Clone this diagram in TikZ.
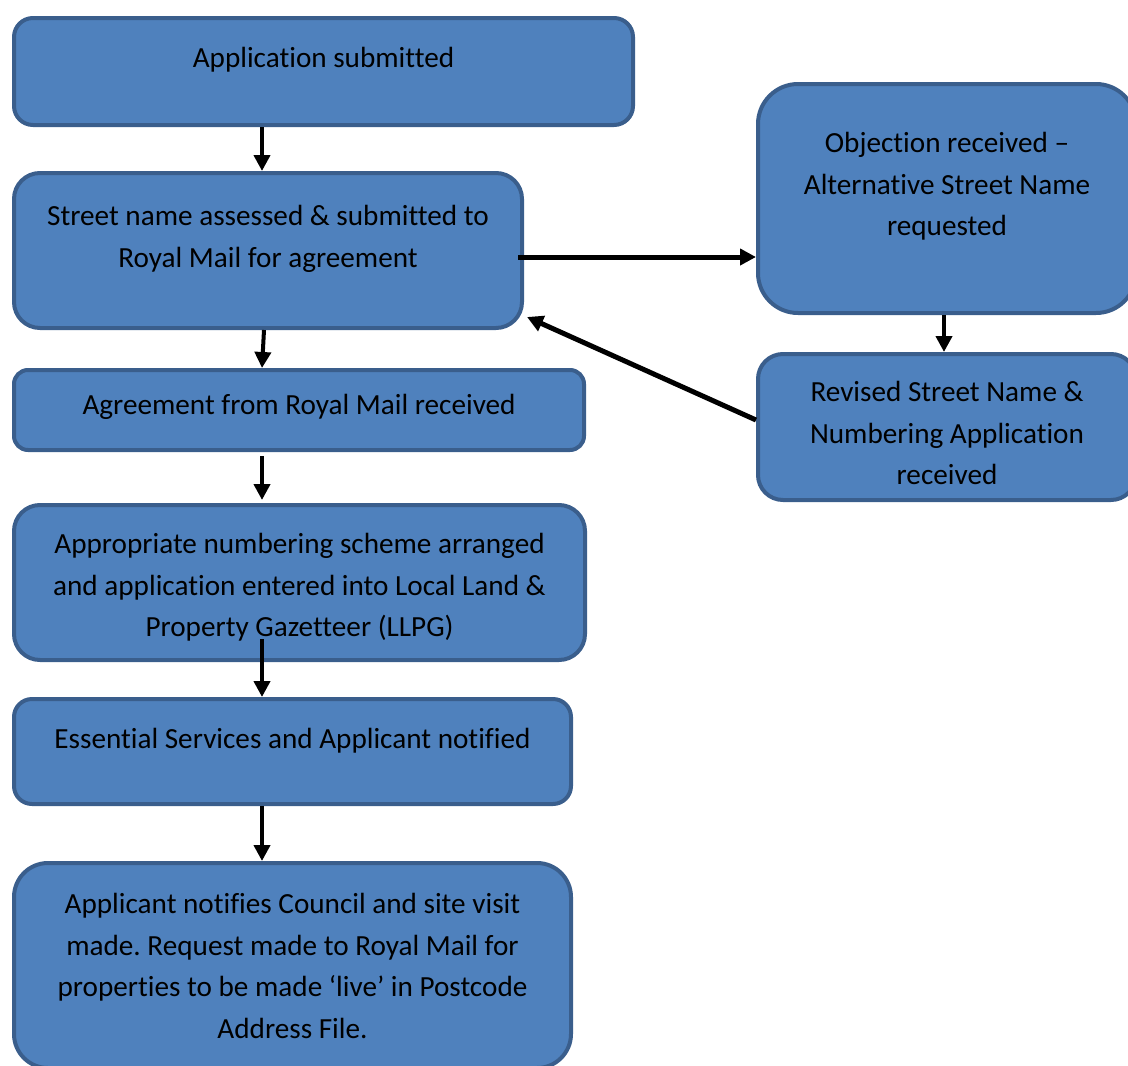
\documentclass[tikz,border=0pt]{standalone}
\usepackage{fontspec}
\setmainfont{Carlito}[Ligatures=NoCommon]
\frenchspacing
\usetikzlibrary{arrows.meta,positioning}
\definecolor{boxfill}{HTML}{4F81BD}
\definecolor{boxline}{HTML}{3A5E8C}
\tikzset{
  stagebox/.style={draw=boxline, fill=boxfill, line width=4pt, inner sep=0pt},
  stagetext/.style={anchor=north, inner sep=0pt, align=center,
    font=\fontsize{29.2}{41.5}\selectfont},
  flow/.style={line width=4pt, -{Triangle[length=16pt,width=16pt]}},
}
\begin{document}
\begin{tikzpicture}[x=1pt,y=-1pt]
  \useasboundingbox (0,0) rectangle (1128,1066);
  \clip (0,0) rectangle (1128,1066);
  % boxes
  \node[stagebox, rounded corners=19pt, minimum width=619pt, minimum height=107pt] (submit) at (323.5,71.5) {};
  \node[stagebox, rounded corners=26pt, minimum width=508pt, minimum height=155pt] (assess) at (268,250.5) {};
  \node[stagebox, rounded corners=14pt, minimum width=570pt, minimum height=80pt] (agree) at (299,410) {};
  \node[stagebox, rounded corners=26pt, minimum width=571pt, minimum height=155pt] (scheme) at (299.5,582.5) {};
  \node[stagebox, rounded corners=18pt, minimum width=557pt, minimum height=105pt] (notify) at (292.5,751.5) {};
  \node[stagebox, rounded corners=34pt, minimum width=557pt, minimum height=205pt] (live) at (292.5,965.5) {};
  \node[stagebox, rounded corners=40pt, minimum width=378pt, minimum height=229pt] (objection) at (947,198.5) {};
  \node[stagebox, rounded corners=25pt, minimum width=378pt, minimum height=146pt] (revised) at (947,427) {};
  % texts
  \node[stagetext, below=22.5pt of submit.north] (submit-t) {\strut Application submitted};
  \node[stagetext, below=25.5pt of assess.north] (assess-t) {\strut Street name assessed \& submitted to\\Royal Mail for agreement};
  \node[stagetext, below=17.5pt of agree.north] (agree-t) {\strut Agreement from Royal Mail received};
  \node[stagetext, below=21.5pt of scheme.north] (scheme-t) {\strut Appropriate numbering scheme arranged\\and application entered into Local Land \&\\Property Gazetteer (LLPG)};
  \node[stagetext, below=22.5pt of notify.north] (notify-t) {\strut Essential Services and Applicant notified};
  \node[stagetext, below=23.5pt of live.north] (live-t) {\strut Applicant notifies Council and site visit\\made. Request made to Royal Mail for\\properties to be made ‘live’ in Postcode\\Address File.};
  \node[stagetext, below=41.5pt of objection.north] (objection-t) {\strut Objection received –\\Alternative Street Name\\requested};
  \node[stagetext, below=20.5pt of revised.north] (revised-t) {\strut Revised Street Name \&\\Numbering Application\\received};
  % connectors
  \draw[flow] ([xshift=-61.5pt]submit.south) -- ([xshift=-6pt]assess.north);
  \draw[flow] ([xshift=-4pt]assess.south) -- ([xshift=-37pt]agree.north);
  \draw[flow] ([xshift=-37pt,yshift=-4pt]agree.south) -- ([xshift=-37.5pt,yshift=3pt]scheme.north);
  \draw[flow] ([xshift=-37.5pt,yshift=23pt]scheme.south) -- ([xshift=-30.5pt]notify.north);
  \draw[flow] ([xshift=-30.5pt]notify.south) -- ([xshift=-30.5pt]live.north);
  \draw[flow, line width=5pt] ([xshift=-6pt,yshift=-6.5pt]assess.east) coordinate (fork) -- (fork -| objection.west);
  \draw[flow] ([xshift=-3pt]objection.south) -- ([xshift=-3pt]revised.north);
  \draw[flow, line width=5pt] ([yshift=7pt]revised.west) -- ([xshift=3pt,yshift=13pt]assess.south east);
\end{tikzpicture}
\end{document}
